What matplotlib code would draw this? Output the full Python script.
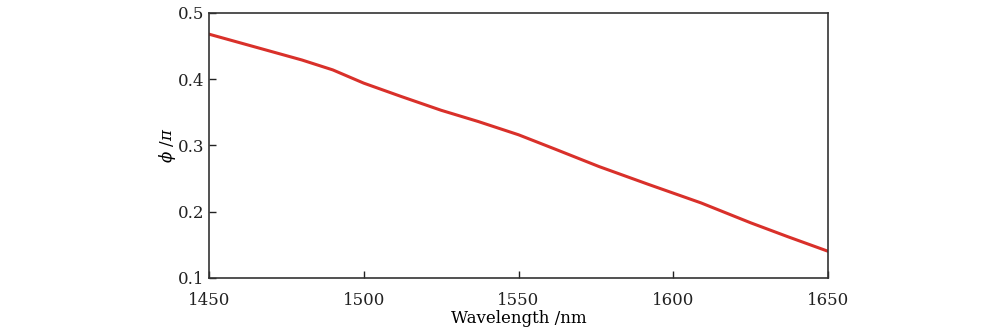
import matplotlib
matplotlib.use('Agg')
import matplotlib.pyplot as plt

wavelength = [1450, 1460, 1470, 1480, 1490, 1500, 1512, 1525, 1537, 1550,
              1562, 1576, 1592, 1609, 1625, 1637, 1650]
phi = [0.468, 0.455, 0.442, 0.429, 0.414, 0.394, 0.374, 0.353, 0.336, 0.316,
       0.294, 0.268, 0.241, 0.213, 0.183, 0.162, 0.140]

plt.rcParams['font.family'] = 'DejaVu Serif'
plt.rcParams['mathtext.fontset'] = 'dejavuserif'

fig = plt.figure(figsize=(10, 3.33), dpi=100)
ax = fig.add_axes([0.209, 0.166, 0.619, 0.795])

ax.plot(wavelength, phi, color='#d9302a', linewidth=2.2)

ax.set_xlim(1450, 1650)
ax.set_ylim(0.1, 0.5)
ax.set_xticks([1450, 1500, 1550, 1600, 1650])
ax.set_yticks([0.1, 0.2, 0.3, 0.4, 0.5])
ax.tick_params(axis='both', direction='in', length=5, width=1, labelsize=12, colors='#222222')
ax.tick_params(axis='x', pad=10)
for s in ax.spines.values():
    s.set_linewidth(1.2)
    s.set_color('#333333')

ax.set_xlabel('Wavelength /nm', size=12, labelpad=1)
ax.set_ylabel(r'$\phi$ /$\pi$', size=12, labelpad=0)

fig.savefig('out.png', dpi=100)
